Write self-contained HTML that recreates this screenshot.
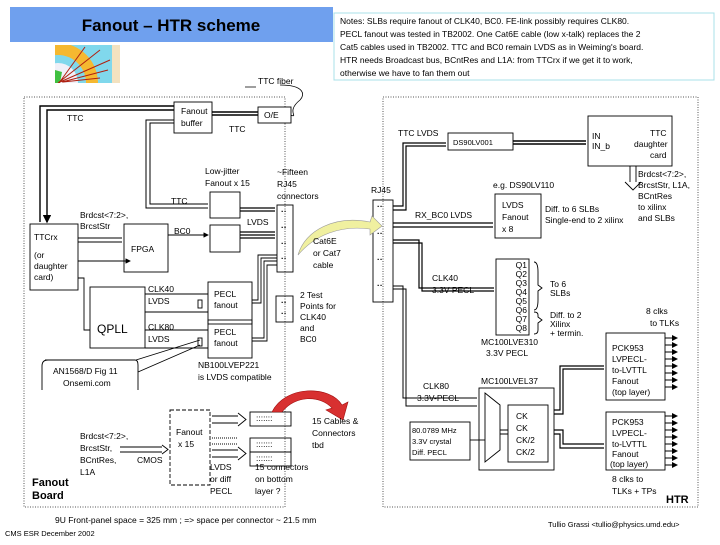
<!DOCTYPE html>
<html><head><meta charset="utf-8"><style>
body{margin:0;width:720px;height:540px;background:#fff;overflow:hidden;font-family:"Liberation Sans",sans-serif}
svg text{font-family:"Liberation Sans",sans-serif;font-size:8.5px;fill:#000}
</style></head><body>
<svg width="720" height="540" viewBox="0 0 720 540">
<defs>
<marker id="a" markerWidth="6" markerHeight="6" refX="5" refY="3" orient="auto"><path d="M0,0 L6,3 L0,6z" fill="#000"/></marker>
<clipPath id="lc"><rect x="55" y="45" width="65" height="38"/></clipPath>
</defs>
<rect x="10" y="7" width="323" height="35" fill="#6fa0ee"/>
<text x="171" y="31" text-anchor="middle" style="font-size:17px;font-weight:bold">Fanout – HTR scheme</text>
<rect x="334" y="13" width="380" height="67" fill="#fff" stroke="#a8e0e8"/>
<text x="340" y="24">Notes: SLBs require fanout of CLK40, BC0. FE-link possibly requires CLK80.</text>
<text x="340" y="37">PECL fanout was tested in TB2002. One Cat6E cable (low x-talk) replaces the 2</text>
<text x="340" y="50">Cat5 cables used in TB2002. TTC and BC0 remain LVDS as in Weiming's board.</text>
<text x="340" y="63">HTR needs Broadcast bus, BCntRes and L1A: from TTCrx if we get it to work,</text>
<text x="340" y="76">otherwise we have to fan them out</text>
<g clip-path="url(#lc)">
<rect x="55" y="45" width="65" height="38" fill="#80d8ec"/>
<rect x="112" y="45" width="8" height="38" fill="#f3e2c0"/>
<circle cx="58" cy="83" r="40" fill="#f5b830"/>
<circle cx="58" cy="83" r="28" fill="#80d8ec"/>
<circle cx="58" cy="83" r="20" fill="#f0f0f8"/>
<path d="M55,70 L62,72 L60,83 L55,83z" fill="#40c040"/>
<path d="M58,83 L100,50 M60,82 L110,60 M62,82 L108,70 M63,82 L100,78 M59,83 L85,47" stroke="#b02010" stroke-width="1" fill="none"/>
</g>
<text x="258" y="84">TTC fiber</text>
<path d="M245,87 L256,87 M280,85 C305,85 305,95 300,100 C285,112 300,118 290,115" stroke="#000" fill="none" stroke-width=".8"/>
<rect x="24" y="97" width="261" height="410" fill="none" stroke="#555" stroke-dasharray="1,1.5"/>
<rect x="383" y="97" width="315" height="410" fill="none" stroke="#555" stroke-dasharray="1,1.5"/>
<g stroke="#000" fill="none" stroke-width=".9">
<rect x="174" y="102" width="38" height="31" fill="#fff"/>
<rect x="258" y="107" width="33" height="16" fill="#fff"/>
<rect x="30" y="224" width="48" height="66"/>
<rect x="124" y="224" width="44" height="48"/>
<rect x="210" y="192" width="30" height="26"/>
<rect x="210" y="225" width="30" height="27"/>
<rect x="277" y="205" width="16" height="67"/>
<rect x="90" y="287" width="55" height="61"/>
<rect x="208" y="282" width="44" height="42"/>
<rect x="208" y="320" width="44" height="38"/>
<rect x="276" y="296" width="17" height="26"/>
<path d="M45,360 L135,360 Q138,360 138,365 L138,390 M42,390 L42,366 Q42,360 48,360"/>
<path d="M138,372 L200,345 M136,360 L200,340"/>
<path d="M174,106 L40,106 L40,222 M174,110 L47,110 L47,222" stroke-width="1.4" marker-end="url(#a)"/>
<path d="M212,112 L258,112 M212,115 L258,115" stroke-width="1.4"/>
<path d="M174,120 L146,120 L146,208 L208,208 M174,123 L150,123 L150,204 L208,204" stroke-width="1"/>
<path d="M240,208 L275,208 M240,211 L275,211 M240,235 L275,235 M240,238 L275,238 M240,232 L275,232" stroke-width="1.3"/>
<path d="M168,235 L208,235" marker-end="url(#a)"/>
<path d="M78,238 L122,238 M78,242 L122,242"/>
<path d="M78,261 L130,261" marker-end="url(#a)"/>
<path d="M78,278 L84,278 L84,330 L90,330"/>
<path d="M145,294 L208,294 M145,312 L208,312 M145,330 L208,330 M145,348 L208,348"/>
<rect x="198" y="300" width="4" height="8"/><rect x="198" y="338" width="4" height="8"/>
<path d="M252,300 L258,300 L258,255 L277,255 M252,303 L261,303 L261,258 L277,258 M252,338 L264,338 L264,261 L277,261 M252,341 L267,341 L267,265 L277,265"/>
<rect x="170" y="410" width="40" height="75" stroke-dasharray="4,2"/>
<path d="M120,447 L162,447 M120,452 L162,452 M162,445 L168,449.5 L162,454"/>
<path d="M212,416 L238,416 M212,423 L238,423 M238,413 L246,419.5 L238,426"/>
<path d="M212,438 L238,438 M212,444 L238,444" stroke-dasharray="1,1"/>
<path d="M212,450 L238,450 M212,457 L238,457 M238,447 L246,453.5 L238,460"/>
<rect x="250" y="412" width="41" height="14"/>
<rect x="250" y="438" width="41" height="14"/>
<rect x="250" y="452" width="41" height="14"/>
<rect x="373" y="200" width="20" height="102"/>
<rect x="448" y="133" width="65" height="17"/>
<rect x="588" y="116" width="84" height="50"/>
<rect x="495" y="194" width="46" height="44"/>
<rect x="496" y="259" width="33" height="76"/>
<rect x="606" y="333" width="59" height="67"/>
<rect x="606" y="412" width="59" height="58"/>
<rect x="479" y="388" width="75" height="82"/>
<rect x="508" y="405" width="40" height="57"/>
<rect x="410" y="422" width="60" height="38"/>
<path d="M485,393 L500,405 L500,450 L485,462z"/>
<path d="M393,206 L403,206 L403,143 L446,143 M393,210 L406,210 L406,146 L446,146" stroke-width="1.2"/>
<path d="M513,141 L586,141 M513,144 L586,144" stroke-width="1.6"/>
<path d="M393,223 L493,223 M393,227 L493,227" stroke-width="1.2"/>
<path d="M393,240 L419,240 L419,288 L494,288 M393,243 L422,243 L422,291 L494,291" stroke-width="1.2"/>
<path d="M393,286 L403,286 L403,398 L477,398 M393,289 L406,289 L406,406 L477,406" stroke-width="1"/>
<path d="M470,440 L485,440"/>
<path d="M500,430 L508,430 M500,434 L508,434"/>
<path d="M554,410 L560,410 L560,366 L604,366 M554,414 L563,414 L563,369 L604,369" stroke-width="1.2"/>
<path d="M554,430 L563,430 L563,444 L604,444 M554,434 L560,434 L560,448 L604,448" stroke-width="1.2"/>
<path d="M630,166 L630,182 M636,166 L636,182 M625,182 L633,190 L641,182"/>
<path d="M534,262 Q538,262 538,272 L538,285 L542,288 L538,291 L538,300 Q538,310 534,310 M534,312 Q538,312 538,315 L538,317 L542,320 L538,323 L538,330 Q538,334 534,334"/>
</g>
<g stroke="#000" stroke-width="1" marker-end="url(#a)">
<line x1="665" y1="338" x2="677" y2="338"/><line x1="665" y1="345" x2="677" y2="345"/><line x1="665" y1="352" x2="677" y2="352"/><line x1="665" y1="359" x2="677" y2="359"/><line x1="665" y1="366" x2="677" y2="366"/><line x1="665" y1="373" x2="677" y2="373"/><line x1="665" y1="380" x2="677" y2="380"/><line x1="665" y1="387" x2="677" y2="387"/>
<line x1="665" y1="416" x2="677" y2="416"/><line x1="665" y1="423" x2="677" y2="423"/><line x1="665" y1="430" x2="677" y2="430"/><line x1="665" y1="437" x2="677" y2="437"/><line x1="665" y1="444" x2="677" y2="444"/><line x1="665" y1="451" x2="677" y2="451"/><line x1="665" y1="458" x2="677" y2="458"/><line x1="665" y1="465" x2="677" y2="465"/>
</g>
<g font-weight="bold"><text x="281" y="214">··</text><text x="281" y="230">··</text><text x="281" y="246">··</text><text x="281" y="261">··</text>
<text x="281" y="305">··</text><text x="281" y="316">··</text>
<text x="377" y="209">··</text><text x="377" y="236">··</text><text x="377" y="262">··</text><text x="377" y="288">··</text></g>
<g style="font-size:5px"><text x="256" y="421">:::::::</text><text x="256" y="447">:::::::</text><text x="256" y="461">:::::::</text></g>
<path d="M298,255 C305,230 335,215 370,222 L372,216 L382,226 L370,235 L370,229 C340,225 315,235 298,255z" fill="#f0f0a0" stroke="#999" stroke-width=".6"/>
<path d="M272,412 C285,385 330,385 342,405 L348,402 L343,420 L326,410 L332,408 C320,395 295,395 282,412z" fill="#d83030" stroke="#a01010" stroke-width=".6"/>
<text x="67" y="121">TTC</text><text x="181" y="114">Fanout</text><text x="181" y="126">buffer</text>
<text x="264" y="118">O/E</text><text x="229" y="132">TTC</text>
<text x="205" y="174">Low-jitter</text><text x="205" y="186">Fanout x 15</text>
<text x="277" y="175">~Fifteen</text><text x="277" y="187">RJ45</text><text x="277" y="199">connectors</text>
<text x="171" y="204">TTC</text><text x="247" y="225">LVDS</text><text x="174" y="234">BC0</text>
<text x="80" y="218">Brdcst&lt;7:2&gt;,</text><text x="80" y="229">BrcstStr</text>
<text x="34" y="240">TTCrx</text><text x="34" y="258">(or</text><text x="34" y="269">daughter</text><text x="34" y="280">card)</text>
<text x="131" y="252">FPGA</text>
<text x="313" y="244">Cat6E</text><text x="313" y="256">or Cat7</text><text x="313" y="268">cable</text>
<text x="148" y="292">CLK40</text><text x="148" y="304">LVDS</text><text x="148" y="330">CLK80</text><text x="148" y="342">LVDS</text>
<text x="97" y="333" style="font-size:12px">QPLL</text>
<text x="214" y="297">PECL</text><text x="214" y="308">fanout</text><text x="214" y="335">PECL</text><text x="214" y="346">fanout</text>
<text x="300" y="298">2 Test</text><text x="300" y="309">Points for</text><text x="300" y="320">CLK40</text><text x="300" y="331">and</text><text x="300" y="342">BC0</text>
<text x="198" y="368">NB100LVEP221</text><text x="198" y="380">is LVDS compatible</text>
<text x="53" y="374">AN1568/D Fig 11</text><text x="63" y="386">Onsemi.com</text>
<text x="80" y="439">Brdcst&lt;7:2&gt;,</text><text x="80" y="451">BrcstStr,</text><text x="80" y="463">BCntRes,</text><text x="80" y="475">L1A</text>
<text x="137" y="463">CMOS</text>
<text x="176" y="435">Fanout</text><text x="178" y="447">x 15</text>
<text x="210" y="470">LVDS</text><text x="210" y="482">or diff</text><text x="210" y="494">PECL</text>
<text x="255" y="470">15 connectors</text><text x="255" y="482">on bottom</text><text x="255" y="494">layer ?</text>
<text x="312" y="424">15 Cables &amp;</text><text x="312" y="436">Connectors</text><text x="312" y="448">tbd</text>
<text x="32" y="486" style="font-size:11px;font-weight:bold">Fanout</text><text x="32" y="499" style="font-size:11px;font-weight:bold">Board</text>
<text x="55" y="523">9U Front-panel space  = 325 mm ; =&gt; space per connector ~  21.5 mm</text>
<text x="5" y="536" style="font-size:7.5px">CMS ESR December 2002</text>
<text x="548" y="527" style="font-size:7.5px">Tullio Grassi &lt;tullio@physics.umd.edu&gt;</text>
<text x="398" y="136">TTC LVDS</text><text x="453" y="145" style="font-size:7.5px">DS90LV001</text>
<text x="592" y="139">IN</text><text x="592" y="149">IN_b</text>
<text x="650" y="136">TTC</text><text x="634" y="147">daughter</text><text x="650" y="158">card</text>
<text x="638" y="177">Brdcst&lt;7:2&gt;,</text><text x="638" y="188">BrcstStr, L1A,</text><text x="638" y="199">BCntRes</text><text x="638" y="210">to xilinx</text><text x="638" y="221">and SLBs</text>
<text x="371" y="193">RJ45</text><text x="493" y="188">e.g. DS90LV110</text>
<text x="502" y="208">LVDS</text><text x="502" y="220">Fanout</text><text x="502" y="232">x 8</text>
<text x="545" y="212">Diff. to 6 SLBs</text><text x="545" y="223">Single-end to 2 xilinx</text>
<text x="415" y="218">RX_BC0 LVDS</text>
<text x="432" y="281">CLK40</text><text x="432" y="293">3.3V-PECL</text>
<g style="font-size:7.5px" text-anchor="end"><text x="527" y="268">Q1</text><text x="527" y="277">Q2</text><text x="527" y="286">Q3</text><text x="527" y="295">Q4</text><text x="527" y="304">Q5</text><text x="527" y="313">Q6</text><text x="527" y="322">Q7</text><text x="527" y="331">Q8</text></g>
<text x="550" y="287">To 6</text><text x="550" y="296">SLBs</text>
<text x="550" y="318">Diff. to 2</text><text x="550" y="327">Xilinx</text><text x="550" y="336">+ termin.</text>
<text x="481" y="345">MC100LVE310</text><text x="486" y="356">3.3V PECL</text>
<text x="646" y="314">8 clks</text><text x="650" y="326">to TLKs</text>
<text x="612" y="351">PCK953</text><text x="612" y="362">LVPECL-</text><text x="612" y="373">to-LVTTL</text><text x="612" y="384">Fanout</text><text x="612" y="395">(top layer)</text>
<text x="612" y="425">PCK953</text><text x="612" y="436">LVPECL-</text><text x="612" y="447">to-LVTTL</text><text x="612" y="457">Fanout</text><text x="610" y="467">(top layer)</text>
<text x="481" y="384">MC100LVEL37</text>
<text x="423" y="389">CLK80</text><text x="417" y="401">3.3V-PECL</text>
<text x="412" y="433" style="font-size:7.5px">80.0789 MHz</text><text x="412" y="444" style="font-size:7.5px">3.3V crystal</text><text x="412" y="455" style="font-size:7.5px">Diff. PECL</text>
<text x="516" y="419">CK</text><text x="516" y="431">CK</text><text x="516" y="443">CK/2</text><text x="516" y="455">CK/2</text>
<text x="612" y="482">8 clks to</text><text x="612" y="494">TLKs + TPs</text>
<text x="666" y="503" style="font-size:11px;font-weight:bold">HTR</text>
</svg>
</body></html>
